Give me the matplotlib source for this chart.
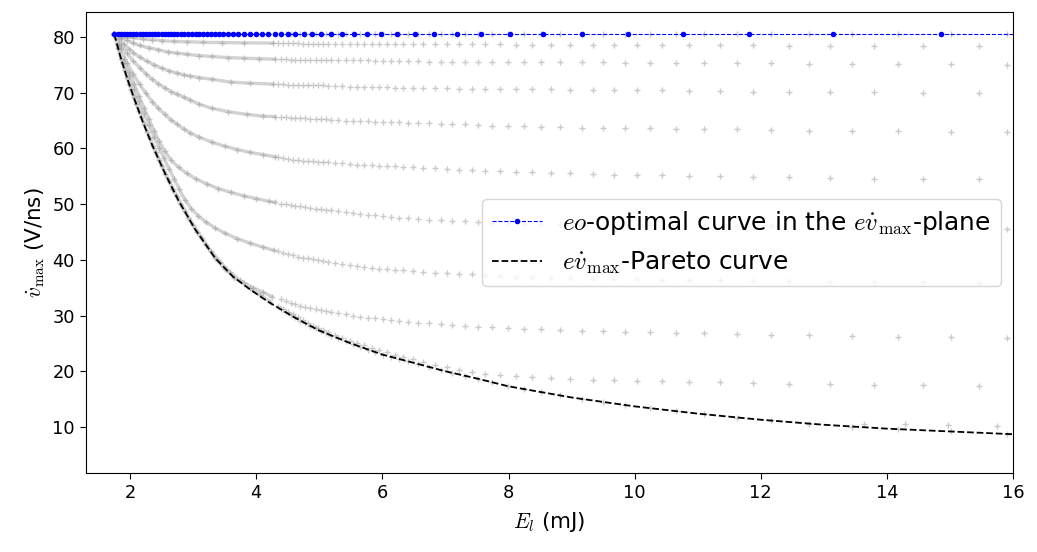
import matplotlib.pyplot as plt

plt.rcParams['mathtext.fontset'] = 'cm'

# sparse E sampling (mJ) of the gray curves, two staggered sets
e_a = [4.35, 4.43, 4.51, 4.58, 4.66, 4.74, 4.82, 4.90, 4.98, 5.06,
       5.14, 5.25, 5.36, 5.48, 5.59, 5.71, 5.83, 5.95, 6.07, 6.20,
       6.33, 6.48, 6.65, 6.84, 7.02, 7.21, 7.42, 7.63, 7.86, 8.12,
       8.38, 8.67, 8.98, 9.34, 9.67, 10.04, 10.44, 10.86, 11.36, 11.88,
       12.45, 13.10, 13.80, 14.57, 15.46]
e_b = [4.39, 4.47, 4.55, 4.62, 4.70, 4.78, 4.86, 4.94, 5.02, 5.10,
       5.19, 5.30, 5.42, 5.53, 5.65, 5.77, 5.89, 6.01, 6.13, 6.26,
       6.40, 6.56, 6.74, 6.93, 7.11, 7.31, 7.52, 7.74, 7.99, 8.25,
       8.52, 8.82, 9.16, 9.50, 9.85, 10.24, 10.65, 11.10, 11.62, 12.16,
       12.77, 13.45, 14.18, 15.01, 15.90]

# tails (vdot_max, V/ns)
t0 = [80.5, 80.5, 80.5, 80.5, 80.5, 80.5, 80.5, 80.5, 80.5, 80.5,
      80.5, 80.5, 80.5, 80.5, 80.5, 80.5, 80.5, 80.5, 80.5, 80.5,
      80.5, 80.5, 80.5, 80.5, 80.5, 80.5, 80.5, 80.5, 80.5, 80.5,
      80.5, 80.5, 80.5, 80.5, 80.5, 80.5, 80.5, 80.5, 80.5, 80.5,
      80.5, 80.5, 80.5, 80.5, 80.5]
t1 = [78.9, 78.9, 78.9, 78.9, 78.9, 78.8, 78.8, 78.8, 78.8, 78.8,
      78.8, 78.8, 78.8, 78.8, 78.8, 78.8, 78.8, 78.8, 78.7, 78.7,
      78.7, 78.7, 78.7, 78.7, 78.7, 78.7, 78.7, 78.7, 78.7, 78.6,
      78.6, 78.6, 78.6, 78.6, 78.6, 78.6, 78.5, 78.5, 78.5, 78.5,
      78.4, 78.4, 78.4, 78.3, 78.3]
t2 = [76.0, 76.0, 75.9, 75.9, 75.9, 75.9, 75.9, 75.9, 75.9, 75.8,
      75.8, 75.8, 75.8, 75.8, 75.8, 75.8, 75.7, 75.7, 75.7, 75.7,
      75.7, 75.7, 75.6, 75.6, 75.6, 75.6, 75.6, 75.6, 75.5, 75.5,
      75.5, 75.5, 75.5, 75.5, 75.4, 75.4, 75.4, 75.3, 75.3, 75.3,
      75.2, 75.2, 75.1, 75.1, 75.0]
t3 = [71.5, 71.5, 71.4, 71.4, 71.4, 71.4, 71.3, 71.3, 71.3, 71.3,
      71.2, 71.2, 71.2, 71.1, 71.1, 71.1, 71.0, 71.0, 71.0, 70.9,
      70.9, 70.9, 70.8, 70.8, 70.8, 70.7, 70.7, 70.7, 70.6, 70.6,
      70.6, 70.6, 70.5, 70.5, 70.5, 70.4, 70.4, 70.3, 70.3, 70.2,
      70.2, 70.1, 70.1, 70.0, 70.0]
t4 = [65.6, 65.6, 65.5, 65.5, 65.4, 65.4, 65.3, 65.3, 65.2, 65.2,
      65.1, 65.1, 65.0, 65.0, 64.9, 64.9, 64.8, 64.8, 64.7, 64.7,
      64.6, 64.5, 64.5, 64.4, 64.3, 64.3, 64.2, 64.1, 64.0, 64.0,
      63.9, 63.8, 63.7, 63.7, 63.6, 63.6, 63.5, 63.4, 63.4, 63.3,
      63.2, 63.1, 63.1, 63.0, 62.9]
t5 = [58.4, 58.3, 58.1, 58.0, 57.9, 57.8, 57.7, 57.7, 57.6, 57.5,
      57.5, 57.4, 57.3, 57.2, 57.1, 57.0, 57.0, 56.9, 56.8, 56.8,
      56.7, 56.6, 56.5, 56.4, 56.3, 56.2, 56.1, 56.0, 55.9, 55.8,
      55.7, 55.6, 55.5, 55.4, 55.3, 55.2, 55.2, 55.1, 55.0, 54.9,
      54.8, 54.7, 54.6, 54.6, 54.5]
t6 = [50.1, 50.0, 49.8, 49.7, 49.6, 49.5, 49.3, 49.2, 49.1, 49.0,
      48.9, 48.7, 48.5, 48.4, 48.2, 48.1, 48.0, 47.9, 47.7, 47.6,
      47.5, 47.4, 47.2, 47.1, 47.0, 46.9, 46.8, 46.7, 46.6, 46.5,
      46.5, 46.4, 46.3, 46.3, 46.2, 46.2, 46.1, 46.1, 46.0, 46.0,
      45.9, 45.8, 45.8, 45.7, 45.6]
t7 = [41.5, 41.2, 41.0, 40.8, 40.6, 40.4, 40.3, 40.1, 39.9, 39.8,
      39.6, 39.4, 39.2, 39.0, 38.9, 38.7, 38.6, 38.4, 38.3, 38.2,
      38.1, 38.0, 37.9, 37.7, 37.6, 37.5, 37.4, 37.3, 37.1, 37.0,
      36.9, 36.8, 36.7, 36.6, 36.5, 36.5, 36.4, 36.4, 36.3, 36.2,
      36.2, 36.1, 36.0, 36.0, 35.9]
t8 = [32.9, 32.6, 32.3, 32.1, 31.8, 31.6, 31.4, 31.2, 31.0, 30.8,
      30.6, 30.4, 30.2, 30.0, 29.8, 29.6, 29.5, 29.3, 29.2, 29.0,
      28.9, 28.7, 28.6, 28.4, 28.3, 28.1, 28.0, 27.9, 27.8, 27.6,
      27.5, 27.4, 27.3, 27.2, 27.1, 27.0, 26.9, 26.8, 26.7, 26.6,
      26.5, 26.4, 26.2, 26.1, 26.0]
t9 = [31.7, 31.2, 30.6, 30.2, 29.7, 29.2, 28.7, 28.2, 27.8, 27.4,
      27.0, 26.5, 26.0, 25.5, 25.1, 24.7, 24.2, 23.8, 23.4, 23.0,
      22.6, 22.2, 21.7, 21.2, 20.7, 20.3, 19.9, 19.6, 19.3, 19.1,
      18.9, 18.8, 18.6, 18.5, 18.4, 18.3, 18.2, 18.1, 18.0, 17.9,
      17.8, 17.7, 17.6, 17.5, 17.4]
t10 = [31.2, 30.7, 30.1, 29.7, 29.1, 28.6, 28.1, 27.7, 27.2, 26.8,
       26.4, 25.9, 25.4, 24.9, 24.4, 23.9, 23.4, 23.0, 22.6, 22.2,
       21.8, 21.3, 20.8, 20.2, 19.7, 19.2, 18.6, 18.0, 17.3, 16.8,
       16.3, 15.7, 15.0, 14.5, 13.9, 13.4, 12.9, 12.3, 11.7, 11.2,
       10.6, 10.0, 9.6, 9.2, 8.8]
t11_e = [13.63, 14.29, 14.97, 15.74]
t11_v = [10.6, 10.5, 10.3, 10.2]

# dense heads of the gray curves (points overlap into a band)
h1_e = [1.75, 1.85, 1.95, 2.05, 2.2, 2.35, 2.5, 2.7, 2.9, 3.15, 3.45, 3.8, 4.27]
h1_v = [80.5, 80.25, 80.05, 79.9, 79.65, 79.5, 79.35, 79.2, 79.15, 79.05, 79.0, 78.95, 78.9]
h2_e = [1.75, 1.85, 1.95, 2.05, 2.15, 2.3, 2.45, 2.6, 2.75, 2.9, 3.1, 3.3, 3.55, 3.8, 4.05, 4.3]
h2_v = [80.5, 79.9, 79.4, 78.9, 78.5, 78.05, 77.7, 77.3, 77.1, 76.9, 76.65, 76.5, 76.3, 76.2, 76.1, 76.0]
h3_e = [1.75, 1.82, 1.9, 1.98, 2.05, 2.15, 2.26, 2.38, 2.5, 2.62, 2.75, 2.85, 2.95, 3.1, 3.3, 3.6, 3.9, 4.27]
h3_v = [80.5, 79.6, 78.7, 77.9, 77.2, 76.4, 75.7, 75.0, 74.4, 73.9, 73.5, 73.2, 73.0, 72.7, 72.4, 71.9, 71.7, 71.55]
h4_e = [1.75, 1.85, 1.95, 2.05, 2.15, 2.25, 2.35, 2.45, 2.55, 2.65, 2.75, 2.85, 2.95, 3.1, 3.3, 3.55, 3.85, 4.1, 4.3]
h4_v = [80.5, 78.7, 77.1, 75.7, 74.5, 73.4, 72.4, 71.6, 70.9, 70.2, 69.7, 69.2, 68.7, 67.9, 67.2, 66.6, 66.1, 65.8, 65.7]
h5_e = [1.75, 1.85, 1.95, 2.05, 2.15, 2.25, 2.35, 2.45, 2.55, 2.65, 2.75, 2.85, 2.95, 3.1, 3.3, 3.5, 3.7, 3.9, 4.1, 4.3]
h5_v = [80.5, 77.8, 75.4, 73.3, 71.5, 69.9, 68.4, 67.2, 66.1, 65.1, 64.3, 63.5, 62.8, 62.0, 61.1, 60.4, 59.8, 59.3, 58.9, 58.5]
h6_e = [1.75, 1.82, 1.9, 1.98, 2.06, 2.14, 2.22, 2.3, 2.38, 2.46, 2.55, 2.65, 2.77, 2.9, 3.05, 3.22, 3.4, 3.6, 3.8, 4.0, 4.2, 4.3]
h6_v = [80.5, 78.3, 76.0, 73.8, 71.6, 69.4, 67.3, 65.2, 63.2, 61.3, 59.5, 57.9, 56.6, 55.5, 54.5, 53.6, 52.8, 52.1, 51.5, 51.0, 50.5, 50.3]
h7_e = [1.75, 1.82, 1.9, 1.98, 2.06, 2.14, 2.22, 2.3, 2.38, 2.46, 2.54, 2.62, 2.7, 2.78, 2.87, 2.97, 3.08, 3.2, 3.35, 3.5, 3.7, 3.9, 4.1, 4.28]
h7_v = [80.5, 78.0, 75.4, 73.0, 70.7, 68.5, 66.3, 64.2, 62.1, 60.1, 58.2, 56.3, 54.5, 52.7, 50.8, 49.2, 47.9, 46.8, 45.7, 44.8, 43.8, 43.0, 42.3, 41.7]
h8_e = [1.75, 1.81, 1.88, 1.95, 2.02, 2.1, 2.18, 2.27, 2.36, 2.46, 2.56, 2.67, 2.79, 2.92, 3.06, 3.2, 3.35, 3.5, 3.65, 3.8, 3.95, 4.1, 4.25]
h8_v = [80.5, 78.0, 75.3, 72.7, 70.4, 67.9, 65.6, 63.0, 60.4, 57.9, 55.4, 52.8, 50.1, 47.6, 45.0, 42.7, 40.3, 38.4, 36.8, 35.9, 35.0, 34.2, 33.4]
h9_e = [1.75, 1.8, 1.86, 1.92, 1.99, 2.06, 2.14, 2.22, 2.31, 2.41, 2.51, 2.62, 2.74, 2.87, 3.0, 3.14, 3.28, 3.43, 3.58, 3.74, 3.9, 4.06, 4.22]
h9_v = [80.5, 78.5, 76.1, 74.0, 71.6, 69.3, 66.8, 64.4, 61.9, 59.3, 56.8, 54.2, 51.5, 48.8, 46.3, 43.9, 41.6, 39.6, 37.8, 36.3, 34.9, 33.7, 32.5]

# eo-optimal curve (blue)
eo_e = [1.75, 1.80, 1.85, 1.90, 1.95, 2.00, 2.05, 2.10, 2.15, 2.20,
        2.25, 2.30, 2.35, 2.40, 2.45, 2.50, 2.55, 2.60, 2.65, 2.70,
        2.75, 2.80, 2.86, 2.92, 2.98, 3.04, 3.10, 3.16, 3.22, 3.28,
        3.34, 3.41, 3.48, 3.55, 3.63, 3.71, 3.80, 3.90, 3.99, 4.09,
        4.19, 4.29, 4.40, 4.51, 4.62, 4.75, 4.88, 5.03, 5.19, 5.36,
        5.55, 5.75, 5.98, 6.23, 6.51, 6.82, 7.18, 7.57, 8.03, 8.54,
        9.16, 9.89, 10.76, 11.82, 13.15, 14.86, 17.0]
eo_v = [80.5, 80.5, 80.5, 80.5, 80.5, 80.5, 80.5, 80.5, 80.5, 80.5,
        80.5, 80.5, 80.5, 80.5, 80.5, 80.5, 80.5, 80.5, 80.5, 80.5,
        80.5, 80.5, 80.5, 80.5, 80.5, 80.5, 80.5, 80.5, 80.5, 80.5,
        80.5, 80.5, 80.5, 80.5, 80.5, 80.5, 80.5, 80.5, 80.5, 80.5,
        80.5, 80.5, 80.5, 80.5, 80.5, 80.5, 80.5, 80.5, 80.5, 80.5,
        80.5, 80.5, 80.5, 80.5, 80.5, 80.5, 80.5, 80.5, 80.5, 80.5,
        80.5, 80.5, 80.5, 80.5, 80.5, 80.5, 80.5]

# Pareto curve (black)
par_e = [1.75, 1.85, 1.95, 2.05, 2.2, 2.35, 2.55, 2.76, 3.03, 3.35,
         3.63, 3.9, 4.2, 4.6, 5.0, 5.5, 6.0, 6.5, 7.0, 7.5,
         8.0, 9.0, 10.0, 11.0, 12.0, 13.0, 14.0, 15.0, 16.0, 16.5]
par_v = [80.5, 76.3, 72.7, 69.4, 64.8, 60.6, 55.6, 50.8, 45.5, 40.3,
         37.0, 34.7, 32.4, 29.7, 27.3, 25.0, 23.0, 21.5, 20.0, 18.7,
         17.3, 15.3, 13.7, 12.4, 11.3, 10.4, 9.7, 9.2, 8.7, 8.5]

heads = [(h1_e, h1_v), (h2_e, h2_v), (h3_e, h3_v), (h4_e, h4_v), (h5_e, h5_v),
         (h6_e, h6_v), (h7_e, h7_v), (h8_e, h8_v), (h9_e, h9_v)]
tails = [(e_b, t0), (e_a, t1), (e_b, t2), (e_a, t3), (e_b, t4), (e_a, t5),
         (e_b, t6), (e_a, t7), (e_b, t8), (e_a, t9), (e_b, t10), (t11_e, t11_v)]

fig = plt.figure(figsize=(10.37, 5.52), dpi=100)
ax = fig.add_axes([0.0829, 0.1431, 0.894, 0.8352])

gray_pt = dict(ls='none', marker='+', ms=5, mew=1.0, color='#a0a0a0', alpha=0.55)
for he, hv in heads:
    ax.plot(he, hv, color='#d2d2d2', lw=2.4, solid_capstyle='round', zorder=1)
    ax.plot(he, hv, zorder=2, **gray_pt)
for te, tv in tails:
    ax.plot(te, tv, zorder=2, **gray_pt)

ax.plot(eo_e, eo_v, ls='--', marker='o', color='blue', lw=0.8, ms=4, mew=0,
        zorder=4, label=r'$eo$-optimal curve in the $e\dot{v}_{\max}$-plane')
ax.plot(par_e, par_v, ls='--', color='black', lw=1.3, zorder=3,
        label=r'$e\dot{v}_{\max}$-Pareto curve')

ax.set_xlim(1.30, 16.0)
ax.set_ylim(1.74, 84.49)
ax.set_xticks([2, 4, 6, 8, 10, 12, 14, 16])
ax.set_yticks([10, 20, 30, 40, 50, 60, 70, 80])
ax.tick_params(labelsize=12.8, length=4.5)
ax.set_xlabel(r'$E_l$ (mJ)', fontsize=15.4, labelpad=6)
ax.set_ylabel(r'$\dot{v}_{\max}$ (V/ns)', fontsize=15.4)
ax.legend(loc='center right', fontsize=17.9)

fig.savefig('out.png', dpi=100)
